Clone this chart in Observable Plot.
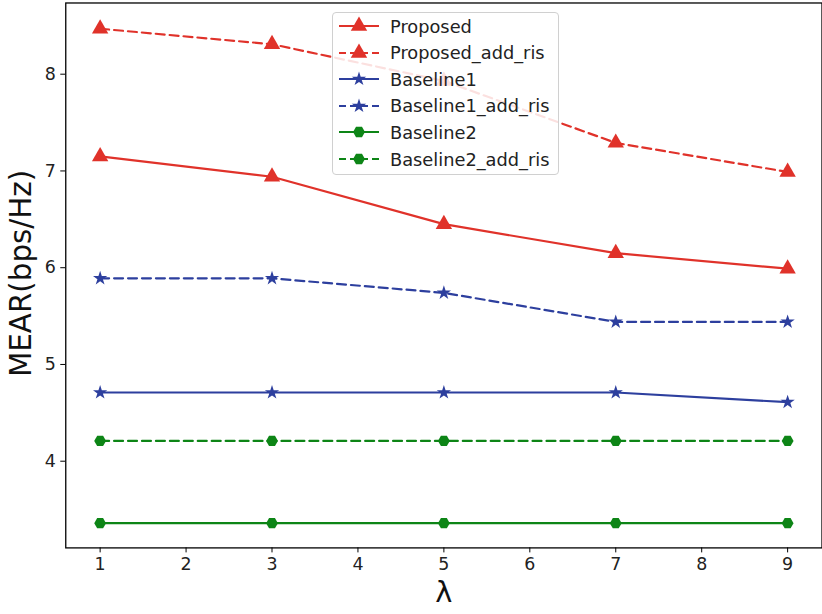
<!DOCTYPE html>
<html>
<head>
<meta charset="utf-8">
<script src="https://cdn.jsdelivr.net/npm/d3@7"></script>
<script src="https://cdn.jsdelivr.net/npm/@observablehq/plot@0.6"></script>
<style>
  html, body { margin: 0; padding: 0; background: #fff; overflow: hidden; }
  #wrap { position: relative; width: 822px; height: 614px; overflow: hidden; font-family: "DejaVu Sans", sans-serif; }
  #legend { position: absolute; left: 332px; top: 12px; width: 227px; height: 163px;
    border: 1px solid #d0d0d0; border-radius: 4px; background: rgba(255,255,255,0.85); box-sizing: border-box; }
  .row { position: absolute; left: 0; height: 26px; display: flex; align-items: center; }
  .row span { font-size: 17.8px; color: #222; white-space: nowrap; }
</style>
</head>
<body>
<div id="wrap"><div id="chart"></div><div id="legend"></div></div>
<script>
const lambdas = [1, 3, 5, 7, 9];
const seriesNames = ["Proposed", "Proposed_add_ris", "Baseline1", "Baseline1_add_ris", "Baseline2", "Baseline2_add_ris"];
const proposed = [7.15, 6.94, 6.45, 6.15, 5.99];
const proposedAddRis = [8.47, 8.31, 7.93, 7.29, 6.99];
const baseline1 = [4.71, 4.71, 4.71, 4.71, 4.61];
const baseline1AddRis = [5.89, 5.89, 5.74, 5.44, 5.44];
const baseline2 = [3.36, 3.36, 3.36, 3.36, 3.36];
const baseline2AddRis = [4.21, 4.21, 4.21, 4.21, 4.21];
const xTicks = [1, 2, 3, 4, 5, 6, 7, 8, 9];
const yTicks = [4, 5, 6, 7, 8];

const RED = "#e0322a", BLUE = "#2d3f9e", GREEN = "#0d8516";

const hexagon = {
  draw(ctx, size) {
    const r = Math.sqrt(size / (1.5 * Math.sqrt(3)));
    for (let i = 0; i < 6; i++) {
      const a = i * Math.PI / 3;
      const x = r * Math.cos(a), y = r * Math.sin(a);
      if (i === 0) ctx.moveTo(x, y); else ctx.lineTo(x, y);
    }
    ctx.closePath();
  }
};

const styles = [
  {values: proposed, color: RED, dash: null, symbol: "triangle", r: 6.1},
  {values: proposedAddRis, color: RED, dash: "9,5", symbol: "triangle", r: 6.1},
  {values: baseline1, color: BLUE, dash: null, symbol: "star", r: 4.5},
  {values: baseline1AddRis, color: BLUE, dash: "9,5", symbol: "star", r: 4.5},
  {values: baseline2, color: GREEN, dash: null, symbol: hexagon, r: 5.4},
  {values: baseline2AddRis, color: GREEN, dash: "9,5", symbol: hexagon, r: 5.4}
];

const marks = [];
styles.forEach((s, k) => {
  const rows = lambdas.map((l, i) => ({lambda: l, value: s.values[i], series: seriesNames[k]}));
  marks.push(Plot.line(rows, {x: "lambda", y: "value", stroke: s.color, strokeWidth: 2.2, strokeDasharray: s.dash || undefined}));
  marks.push(Plot.dot(rows, {x: "lambda", y: "value", fill: s.color, stroke: "none", symbol: s.symbol, r: s.r}));
});

const chart = Plot.plot({
  width: 825,
  height: 614,
  marginLeft: 65.5,
  marginRight: 0.5,
  marginTop: 2.5,
  marginBottom: 64.6,
  style: {fontFamily: "DejaVu Sans, sans-serif", background: "#fff", overflow: "visible"},
  x: {domain: [0.6, 9.4]},
  y: {domain: [3.104, 8.736]},
  marks: [
    Plot.frame({stroke: "#000", strokeWidth: 1.3}),
    Plot.axisX(xTicks, {tickSize: 5, tickPadding: 5, fontSize: 17.5, label: null, stroke: "#000", color: "#222", tickFormat: d3.format("d")}),
    Plot.axisY(yTicks, {tickSize: 5, tickPadding: 5, fontSize: 17.5, label: null, stroke: "#000", color: "#222", tickFormat: d3.format("d")}),
    ...marks,
    Plot.text(["MEAR(bps/Hz)"], {frameAnchor: "left", textAnchor: "middle", dx: -44, dy: -2, rotate: -90, fontSize: 29.5, fill: "#111", text: d => d}),
    Plot.text(["λ"], {frameAnchor: "bottom", dy: 54, fontSize: 29, fill: "#111", text: d => d})
  ]
});
document.getElementById("chart").appendChild(chart);

// legend
const legend = document.getElementById("legend");
styles.forEach((s, k) => {
  const row = document.createElement("div");
  row.className = "row";
  row.style.top = (0 + k * 26.6) + "px";
  const svg = d3.create("svg").attr("width", 46).attr("height", 26).style("margin-left", "4px");
  svg.append("line").attr("x1", 2).attr("x2", 42).attr("y1", 13).attr("y2", 13)
    .attr("stroke", s.color).attr("stroke-width", 2.2).attr("stroke-dasharray", s.dash ? "7,4" : null);
  const symType = s.symbol === "triangle" ? d3.symbolTriangle : s.symbol === "star" ? d3.symbolStar : hexagon;
  svg.append("path").attr("transform", "translate(22,13)")
    .attr("d", d3.symbol(symType, s.r * s.r * Math.PI)())
    .attr("fill", s.color);
  row.appendChild(svg.node());
  const span = document.createElement("span");
  span.style.marginLeft = "7px";
  span.textContent = seriesNames[k];
  row.appendChild(span);
  legend.appendChild(row);
});
</script>
</body>
</html>
